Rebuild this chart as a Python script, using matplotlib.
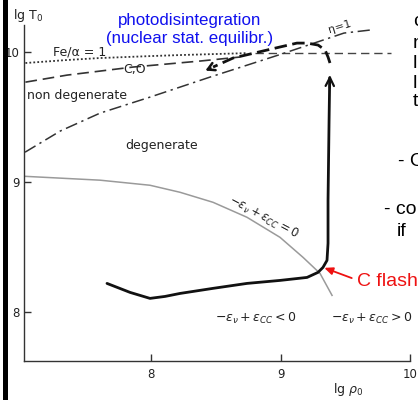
import matplotlib
matplotlib.use("Agg")
import matplotlib.pyplot as plt
from matplotlib.patches import Rectangle

plt.rcParams['mathtext.fontset'] = 'dejavusans'

W, H = 418, 400

# ---- data (lg rho_0, lg T_0) ----
fe_alpha_x = [7.03, 7.35, 7.6, 7.99, 8.22, 8.74]
fe_alpha_y = [9.912, 9.935, 9.950, 9.965, 9.973, 9.988]

fe_alpha_ext_x = [8.80, 9.85]
fe_alpha_ext_y = [9.988, 9.988]

co_x = [7.03, 7.351, 7.861, 8.378, 8.687]
co_y = [9.765, 9.819, 9.881, 9.927, 9.958]

eta_x = [7.027, 7.30, 7.606, 7.992, 8.456, 8.996, 9.49, 9.69]
eta_y = [9.227, 9.39, 9.527, 9.650, 9.804, 9.977, 10.142, 10.165]

nu_cc_x = [7.019, 7.606, 7.992, 8.224, 8.479, 8.741, 8.996, 9.174, 9.305, 9.398]
nu_cc_y = [9.042, 9.012, 8.973, 8.919, 8.842, 8.727, 8.573, 8.419, 8.296, 8.127]

track_x = [7.660, 7.838, 7.992, 8.108, 8.224, 8.479, 8.741, 8.996, 9.205, 9.290,
           9.328, 9.359, 9.367, 9.367, 9.375, 9.380]
track_y = [8.219, 8.150, 8.104, 8.119, 8.142, 8.181, 8.219, 8.242, 8.265, 8.304,
           8.342, 8.396, 8.527, 8.858, 9.473, 9.80]

ign_x = [9.382, 9.367, 9.344, 9.290, 9.205, 9.127, 8.996, 8.633, 8.479]
ign_y = [9.912, 9.958, 10.012, 10.050, 10.065, 10.065, 10.035, 9.950, 9.881]
ign_arrow_tip = (8.40, 9.845)

cflash_pt = (9.328, 8.342)

x_ticks = [8, 9, 10]
y_ticks = [8, 9, 10]

# ---- figure ----
fig = plt.figure(figsize=(W / 100, H / 100), dpi=100)
fig.patch.set_facecolor('white')


def fx(px):
    return px / W


def fy(py):
    return 1 - py / H


ax = fig.add_axes([fx(24), fy(361), fx(410) - fx(24), fy(25) - fy(361)])
ax.set_xlim(7.019, 10.0)
ax.set_ylim(7.623, 10.204)
ax.patch.set_alpha(0)
for s in ['top', 'right']:
    ax.spines[s].set_visible(False)
for s in ['left', 'bottom']:
    ax.spines[s].set_color('#333333')
    ax.spines[s].set_linewidth(1.0)

ax.set_xticks(x_ticks)
ax.set_xticklabels([str(v) for v in x_ticks])
ax.set_yticks(y_ticks)
ax.set_yticklabels([str(v) for v in y_ticks])
ax.tick_params(axis='both', direction='in', length=5, width=1.0, color='#333333',
               labelsize=8.5, labelcolor='#222222')
ax.tick_params(axis='x', pad=5)
ax.tick_params(axis='y', pad=3)

ink = '#222222'

ax.plot(fe_alpha_x, fe_alpha_y, color='#333333', lw=1.3, ls=(0, (1, 1.2)))
ax.plot(fe_alpha_ext_x, fe_alpha_ext_y, color='#444444', lw=1.0, ls=(0, (6, 3.5)))
ax.plot(co_x, co_y, color='#333333', lw=1.2, ls=(0, (7, 3.5)))
ax.plot(eta_x, eta_y, color='#333333', lw=1.1, ls=(0, (8, 3, 1.5, 3)))
ax.plot(nu_cc_x, nu_cc_y, color='#9a9a9a', lw=1.1)

ax.plot(track_x, track_y, color='#111111', lw=2.0, solid_capstyle='round',
        solid_joinstyle='round')
ax.annotate('', xy=(track_x[-1] + 0.002, track_y[-1] + 0.04),
            xytext=(track_x[-1], track_y[-1] - 0.1),
            arrowprops=dict(arrowstyle='->,head_length=0.6,head_width=0.3',
                            color='#111111', lw=1.6))

ax.plot(ign_x, ign_y, color='#111111', lw=2.0, ls=(0, (4.5, 2)))
ax.annotate('', xy=ign_arrow_tip, xytext=(ign_x[-1], ign_y[-1]),
            arrowprops=dict(arrowstyle='->,head_length=0.5,head_width=0.28',
                            color='#111111', lw=1.8))

# red "C flash" arrow
ax.annotate('', xy=cflash_pt, xytext=(9.55, 8.26),
            arrowprops=dict(arrowstyle='-|>,head_length=0.5,head_width=0.22',
                            color='#ee1111', lw=1.3, shrinkA=0, shrinkB=1))

# left black bar
fig.patches.append(Rectangle((fx(3), 0), fx(5), 1, transform=fig.transFigure,
                             facecolor='black', edgecolor='none'))

T = fig.transFigure
lab = dict(color=ink, fontsize=9, family='DejaVu Sans', transform=T)

fig.text(fx(13), fy(16), r'lg T$_0$', ha='left', va='center', **lab)
fig.text(fx(348), fy(389), r'lg $\rho_0$', ha='center', va='center', **lab)
fig.text(fx(53), fy(52), 'Fe/α = 1', ha='left', va='center', **lab)
fig.text(fx(123), fy(70), 'C,O', ha='left', va='center', **lab)
fig.text(fx(27), fy(95), 'non degenerate', ha='left', va='center', **lab)
fig.text(fx(125), fy(145), 'degenerate', ha='left', va='center', **lab)
fig.text(fx(340), fy(27), 'η=1', ha='center', va='center', rotation=17,
         color=ink, fontsize=8, transform=T)
fig.text(fx(263), fy(217), r'$-\varepsilon_\nu+\varepsilon_{CC}=0$', ha='center',
         va='center', rotation=-28, color=ink, fontsize=8.5, transform=T)
fig.text(fx(256), fy(318), r'$-\varepsilon_\nu+\varepsilon_{CC}<0$', ha='center',
         va='center', color=ink, fontsize=9, transform=T)
fig.text(fx(372), fy(318), r'$-\varepsilon_\nu+\varepsilon_{CC}>0$', ha='center',
         va='center', color=ink, fontsize=9, transform=T)

blue = dict(color='#1010ee', fontsize=12.2, family='Liberation Sans',
            ha='center', va='center', transform=T)
fig.text(fx(190), fy(20), 'photodisintegration', **blue)
fig.text(fx(190), fy(39), '(nuclear stat. equilibr.)', **blue)

side = dict(color='black', fontsize=14, family='Liberation Sans',
            ha='left', va='center', transform=T)
fig.text(fx(357), fy(281), 'C flash', **{**side, 'color': '#ee1111'})
fig.text(fx(398), fy(161), '- C', **side)
fig.text(fx(384), fy(210), '- co', **side)
fig.text(fx(397), fy(232), 'if', **side)
for ch, py in zip(['c', 'n', 'l', 'l', 't'], [22, 43, 63, 83, 102]):
    fig.text(fx(413), fy(py), ch, **side)

fig.savefig('out.png', dpi=100)
